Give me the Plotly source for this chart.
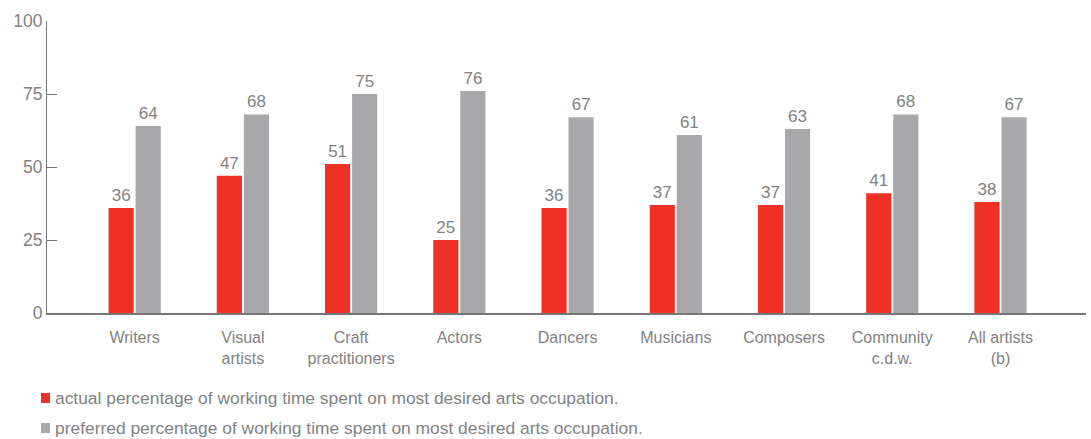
import plotly.graph_objects as go

categories = ["Writers", "Visual<br>artists", "Craft<br>practitioners", "Actors", "Dancers",
              "Musicians", "Composers", "Community<br>c.d.w.", "All artists<br>(b)"]
actual = [36, 47, 51, 25, 36, 37, 37, 41, 38]
preferred = [64, 68, 75, 76, 67, 61, 63, 68, 67]
y_ticks = [0, 25, 50, 75, 100]
series_names = ["actual percentage of working time spent on most desired arts occupation.",
                "preferred percentage of working time spent on most desired arts occupation."]

RED = "#EE3124"
GREY = "#A8A8AA"
TEXT = "#828282"
FONT = "Liberation Sans"

fig = go.Figure()
for vals, color, name in [(actual, RED, series_names[0]), (preferred, GREY, series_names[1])]:
    fig.add_trace(go.Bar(
        x=categories, y=vals, name=name,
        marker=dict(color=color, line_width=0), text=vals, textposition="outside",
        textfont=dict(size=17, color=TEXT, family=FONT), cliponaxis=False,
    ))

# Plot area spans pixels 47..1086 horizontally and 21..313 vertically
PW, PH = 1039, 292
def px_x(px):
    return (px - 47) / PW
def px_y(py):
    return (313 - py) / PH

# Legend drawn as swatches with text beside them
for i, (color, name) in enumerate([(RED, series_names[0]), (GREY, series_names[1])]):
    cy = 398 + 30 * i
    fig.add_shape(type="rect", xref="paper", yref="paper",
                  x0=px_x(41), x1=px_x(50), y0=px_y(cy + 5), y1=px_y(cy - 5),
                  fillcolor=color, line_width=0)
    fig.add_annotation(xref="paper", yref="paper", x=px_x(53), y=px_y(cy),
                       xanchor="left", yanchor="middle", showarrow=False, text=name,
                       font=dict(size=17.4, color=TEXT, family=FONT))

fig.update_layout(
    width=1091, height=439,
    margin=dict(l=47, r=5, t=21, b=126),
    paper_bgcolor="white", plot_bgcolor="white",
    barmode="group", bargap=0.5, bargroupgap=0.07,
    font=dict(family=FONT, size=16, color=TEXT),
    showlegend=False,
    xaxis=dict(range=[-0.81, 8.79], showline=True, linecolor="#777777", linewidth=1.5,
               ticks="", showgrid=False, tickfont=dict(size=16, color=TEXT),
               ticklabelstandoff=9),
    yaxis=dict(range=[0, 100], tickvals=y_ticks, showline=True, linecolor="#777777", linewidth=1,
               ticks="inside", ticklen=10, tickcolor="#777777", showgrid=False, zeroline=False,
               tickfont=dict(size=17.5, color=TEXT), ticklabelstandoff=0),
)

fig.write_html("out.html")
